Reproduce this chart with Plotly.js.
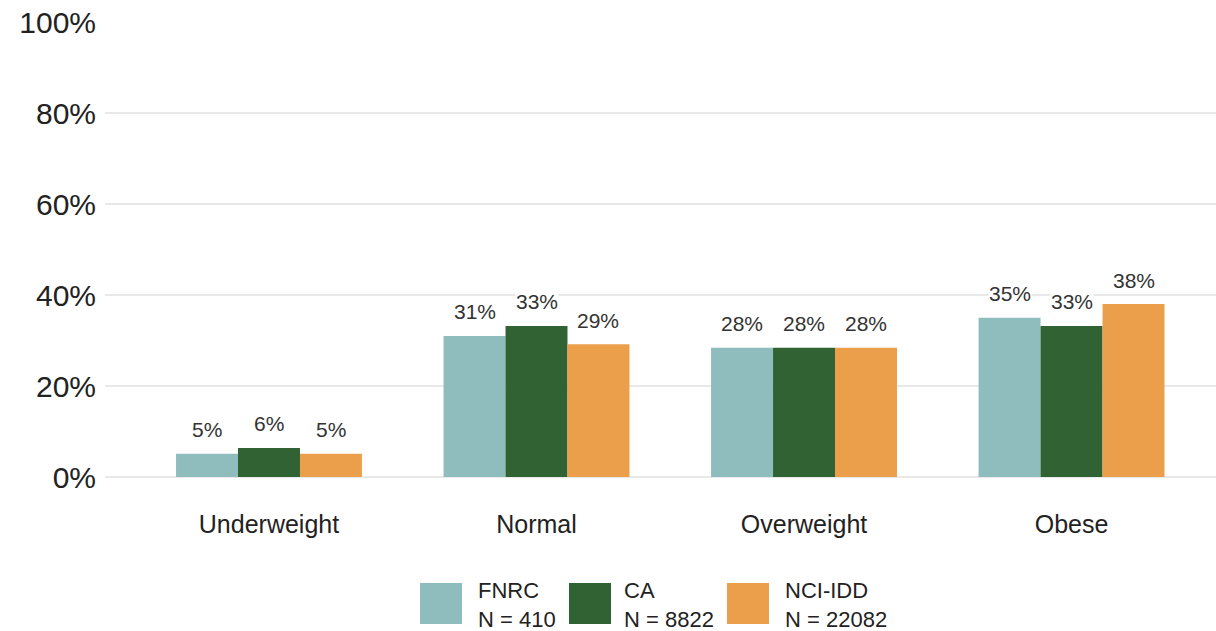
<!DOCTYPE html>
<html>
<head>
<meta charset="utf-8">
<script src="https://cdn.plot.ly/plotly-3.0.1.min.js"></script>
<style>
html,body{margin:0;padding:0;background:#fff;}
#chart{width:1216px;height:631px;}
</style>
</head>
<body>
<div id="chart"></div>
<script>
const categories = ["Underweight", "Normal", "Overweight", "Obese"];
const seriesNames = ["FNRC", "CA", "NCI-IDD"];
const seriesN = ["N = 410", "N = 8822", "N = 22082"];
const fnrc = [5.1, 31.0, 28.4, 35.0];
const ca = [6.4, 33.2, 28.4, 33.2];
const nci = [5.1, 29.2, 28.4, 38.0];
const yTicks = [0, 20, 40, 60, 80, 100];
const colors = ["#8fbdbd", "#316233", "#eb9f4b"];

const seriesValues = [fnrc, ca, nci];
const FONT = "Liberation Sans, Arial, sans-serif";

const W = 1216, H = 631;
const margin = {l: 105, r: 0, t: 22, b: 154};
const plotW = W - margin.l - margin.r;
const plotH = H - margin.t - margin.b;
const xRange = [-0.613, 3.54];
const bargap = 0.305;
const pxPerCat = plotW / (xRange[1] - xRange[0]);
const barPx = pxPerCat * (1 - bargap) / 3;

const traces = seriesValues.map((vals, s) => ({
  type: "bar",
  name: seriesNames[s],
  x: categories,
  y: vals,
  marker: {color: colors[s], line: {width: 0}},
  hoverinfo: "none",
  showlegend: false
}));

const annotations = [];
seriesValues.forEach((vals, s) => {
  vals.forEach((v, i) => {
    annotations.push({
      x: categories[i], y: v, xref: "x", yref: "y",
      text: Math.round(v) + "%",
      showarrow: false,
      xshift: (s - 1) * barPx,
      yshift: 24,
      yanchor: "middle",
      bgcolor: "#ffffff",
      borderpad: 0,
      font: {family: FONT, size: 21, color: "#333333"}
    });
  });
});

// Legend drawn as swatches + text (paper coordinates)
const toPX = px => (px - margin.l) / plotW;
const toPY = py => (margin.t + plotH - py) / plotH;
const legendSwatchX = [420, 569, 727];
const legendTextX = [476, 622, 783];
const swTop = 583, swBot = 624, swW = 42;
const shapes = [];
seriesNames.forEach((n, s) => {
  shapes.push({
    type: "rect", xref: "paper", yref: "paper",
    x0: toPX(legendSwatchX[s]), x1: toPX(legendSwatchX[s] + swW),
    y0: toPY(swBot), y1: toPY(swTop),
    fillcolor: colors[s], line: {width: 0}
  });
  annotations.push({
    xref: "paper", yref: "paper",
    x: toPX(legendTextX[s]), y: toPY((swTop + swBot) / 2 + 1),
    xanchor: "left", yanchor: "middle", align: "left",
    text: n + "<br>" + seriesN[s],
    showarrow: false,
    font: {family: FONT, size: 22, color: "#222222"}
  });
});

const layout = {
  width: W, height: H,
  margin: margin,
  paper_bgcolor: "#ffffff",
  plot_bgcolor: "#ffffff",
  barmode: "group",
  bargap: bargap,
  bargroupgap: 0,
  showlegend: false,
  font: {family: FONT, color: "#222222"},
  xaxis: {
    type: "category",
    range: xRange,
    showgrid: false,
    zeroline: false,
    showline: false,
    ticks: "",
    ticklabelstandoff: 30,
    tickfont: {family: FONT, size: 25, color: "#222222"}
  },
  yaxis: {
    range: [0, 100],
    tickvals: yTicks,
    ticktext: yTicks.map(v => v + "%"),
    showgrid: true,
    gridcolor: "#e9e9e9",
    gridwidth: 1.5,
    zeroline: true,
    zerolinecolor: "#e9e9e9",
    zerolinewidth: 1.5,
    showline: false,
    ticks: "",
    ticklabelstandoff: 8,
    tickfont: {family: FONT, size: 30, color: "#222222"}
  },
  annotations: annotations,
  shapes: shapes
};

Plotly.newPlot("chart", traces, layout, {staticPlot: true, displayModeBar: false});
</script>
</body>
</html>
